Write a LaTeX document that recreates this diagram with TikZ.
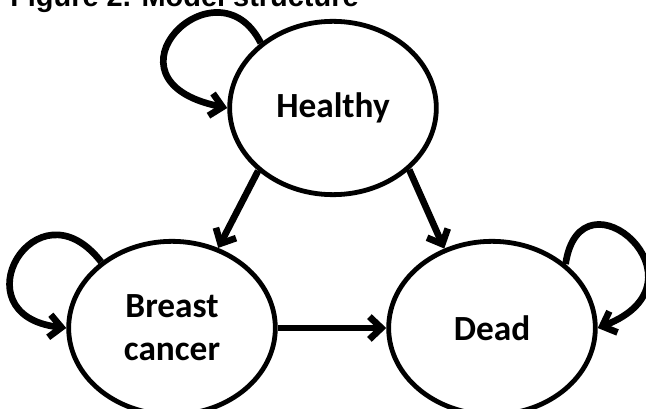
\documentclass[tikz,border=0pt]{standalone}
\usepackage{fontspec}
\usepackage{tikz}
\usetikzlibrary{arrows.meta, shapes.geometric}
\newfontfamily\statefont{Carlito}
\newfontfamily\titlefont{Liberation Sans}

\begin{document}
\begin{tikzpicture}[
    x=0.75pt, y=-0.75pt,
    state/.style={draw, ellipse, line width=3.6pt, inner sep=0pt, align=center, minimum width=155pt, minimum height=130pt, font=\statefont\bfseries\fontsize{26.5}{32}\selectfont},
    arr/.style={-{Straight Barb[length=9pt, width=17pt]}, line width=5pt}]
  \useasboundingbox (0,0) rectangle (646,409);
  \node[anchor=base west, inner sep=0pt, font=\titlefont\bfseries\fontsize{21.7}{26}\selectfont] (title) at (10,7) {Figure 2. Model structure};
  \node[state] (healthy) at (333,108) {Healthy};
  \node[state] (breast) at (172,328) {Breast\\cancer};
  \node[state] (dead) at (492,328) {Dead};
  \draw[arr] (healthy.220) -- (breast.60);
  \draw[arr] (healthy.321) -- (dead.121);
  \draw[arr] (breast) -- (dead);
  % loops back into the same state
  \draw[arr] (healthy.138) .. controls +(-44,-87) and +(-136,-28) .. (healthy.180);
  \draw[arr] (breast.137) .. controls +(-65,-84) and +(-110,-13) .. (breast.180);
  \draw[arr] (dead.41) .. controls +(15,-101) and +(118,-46) .. (dead.0);
\end{tikzpicture}
\end{document}
